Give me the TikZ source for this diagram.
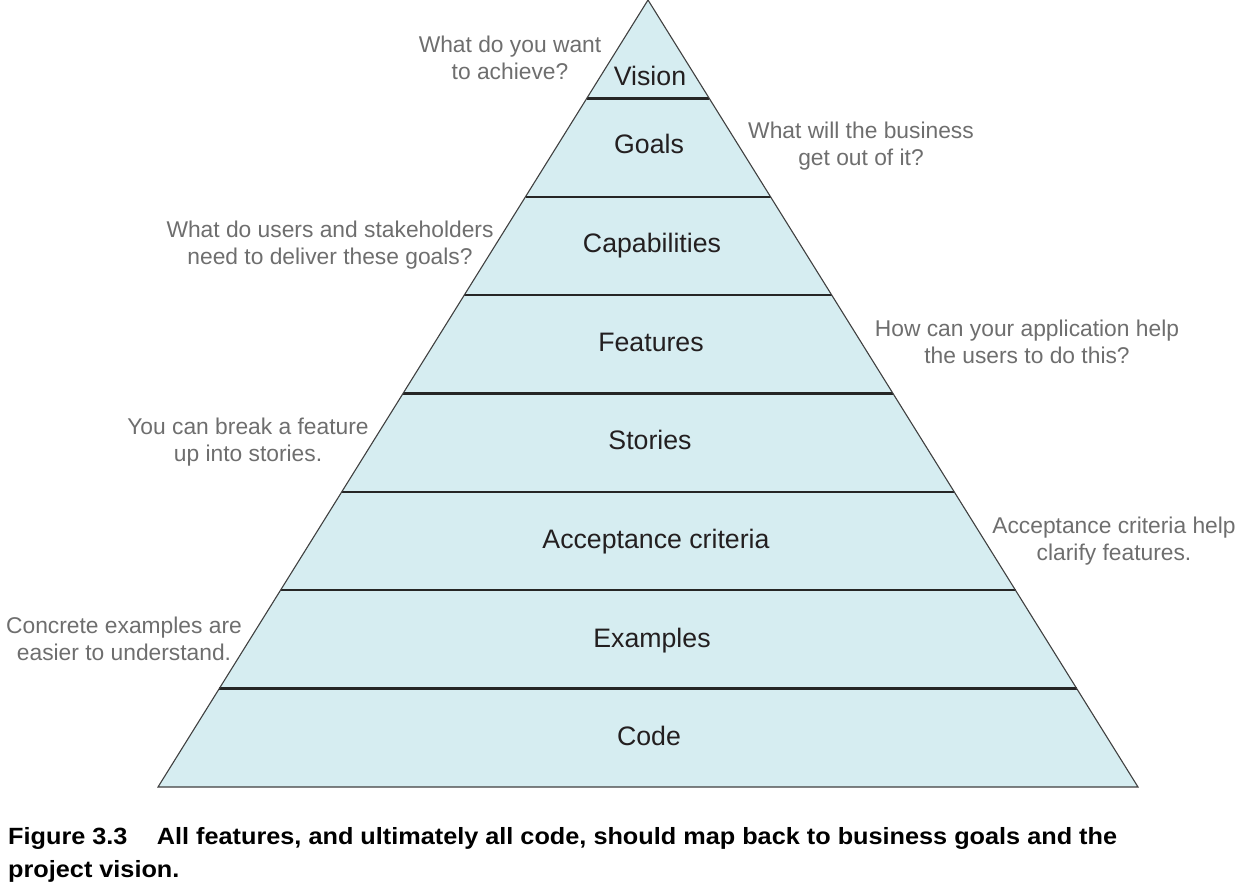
\documentclass[tikz,border=0pt]{standalone}
\usepackage{fontspec}
\setmainfont{Liberation Sans}
\newfontfamily\capfont[FakeStretch=1.075]{Liberation Sans}
\usetikzlibrary{calc}
\usetikzlibrary{positioning}
\definecolor{layerfill}{HTML}{D6EDF1}
\definecolor{notegray}{HTML}{6E6E6E}
\definecolor{layerink}{HTML}{231F20}

\tikzset{
  layer/.style={text=layerink,font=\fontsize{26.7}{30}\selectfont},
  note/.style={text=notegray,align=center,font=\fontsize{22.8}{27}\selectfont},
  side/.style={draw=black!75,line width=1.1pt},
  divider/.style={draw=black!85,line width=2.4pt},
  captext/.style={anchor=base west,inner sep=0pt,font=\capfont\bfseries\fontsize{23.5}{33}\selectfont},
}

\begin{document}
\begin{tikzpicture}[x=1pt,y=-1pt]
  \useasboundingbox (0,0) rectangle (1250,890);
  % the pyramid
  \coordinate (apex) at (648,0);
  \coordinate (bl) at (158,787);
  \coordinate (br) at (1138,787);
  \fill[layerfill] (apex)--(bl)--(br)--cycle;
  \foreach \k in {1,...,7}
    \draw[divider] ($(apex)!\k/8!(bl)$) -- ($(apex)!\k/8!(br)$);
  \draw[side] (apex)--(bl)--(br)--cycle;
  % layers
  \node[layer](vision) at (650,76) {Vision};
  \node[layer](goals) at (649,144) {Goals};
  \node[layer](capab) at (652,246) {Capabilities};
  \node[layer](features) at (651,342) {Features};
  \node[layer](stories) at (650,440) {Stories};
  \node[layer](accept) at (656,542) {Acceptance criteria};
  \node[layer](examples) at (652,641) {Examples};
  \node[layer](code) at (649,736) {Code};
  % questions
  \node[note](qvision) at (510,58) {What do you want\\to achieve?};
  \node[note](qgoals) at (861,146) {What will the business\\get out of it?};
  \node[note](qcapab) at (330,245) {What do users and stakeholders\\need to deliver these goals?};
  \node[note](qfeatures) at (1027,342) {How can your application help\\the users to do this?};
  \node[note](qstories) at (248,442) {You can break a feature\\up into stories.};
  \node[note](qaccept) at (1114,541) {Acceptance criteria help\\clarify features.};
  \node[note](qexamples) at (124,639) {Concrete examples are\\easier to understand.};
  % caption
  \node[captext](caption) at (8,844)
    {Figure 3.3\hspace{1.25em}All features, and ultimately all code, should map back to business goals and the};
  \node[captext](caption2) at (8,877) {project vision.};
\end{tikzpicture}
\end{document}
